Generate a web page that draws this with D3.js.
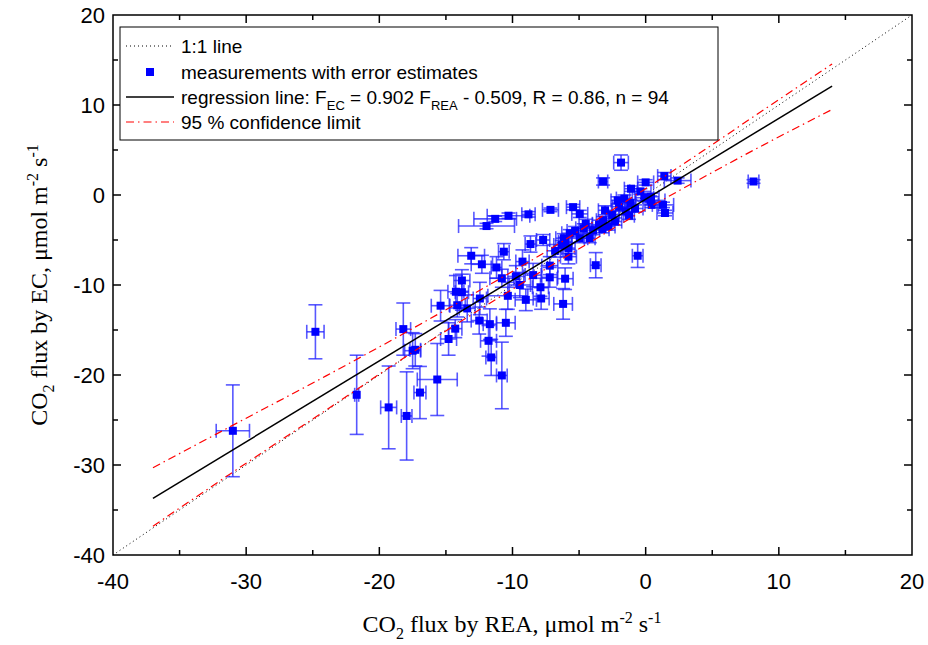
<!DOCTYPE html>
<html lang="en">
<head>
  <meta charset="UTF-8" />
  <title>CO2 flux EC vs REA</title>
  <script src="https://d3js.org/d3.v7.min.js"></script>
  <style>
    body { margin: 0; background: #fff; }
    svg { display: block; }
    .tick-label { font-family: Arial, "Liberation Sans", sans-serif; font-size: 22px; fill: #000; }
    .axis-title { font-family: "Times New Roman", "Liberation Serif", serif; font-size: 24px; fill: #000; }
    .legend-text { font-family: Arial, "Liberation Sans", sans-serif; font-size: 19px; fill: #000; }
  </style>
</head>
<body>
  <svg id="chart"></svg>
  <script>
    // measurements: REA flux (x), EC flux (y), and their error estimates
    const reaFlux = [-1.85, -3.2, 8.1, 0.0, 1.4, 2.4, -1.1, -0.4, -1.6, 0.4,
                     -1.15, 0.35, 0.45, 1.3, 1.45, -1.25, -3.05, -5.45, -4.95, -7.15,
                     -8.8, -10.3, -11.3, -11.95, -2.3, -2.8, -3.25, -3.95, -4.65, -5.7,
                     -6.15, -4.2, -7.7, -8.65, -6.3, -5.8, -10.65, -13.1, -12.3, -11.2,
                     -9.25, -7.2, -3.75, -0.6, -9.75, -8.45, -7.2, -6.05, -10.8, -13.8,
                     -9.45, -14.25, -13.8, -12.45, -10.35, -9.0, -7.85, -6.2, -15.4, -14.15,
                     -13.4, -18.2, -14.3, -12.5, -11.7, -10.5, -14.8, -11.8, -17.3, -17.5,
                     -21.7, -19.3, -17.95, -16.95, -15.65, -11.6, -10.8, -31.0, -24.8, -7.9,
                     -3.2, -4.95, -6.05, -5.8, -2.0, -0.8, -2.5, -1.5, -4.5, -3.5,
                     -5.3, -0.1, -2.1, -6.8];
    const ecFlux  = [3.6, 1.5, 1.5, 1.4, 2.1, 1.6, 0.7, 0.4, -0.4, -0.2,
                     -0.9, -0.6, -1.1, -1.1, -2.0, -2.3, -1.7, -1.35, -2.1, -1.65,
                     -2.15, -2.3, -2.65, -3.45, -2.95, -3.5, -3.8, -3.9, -3.7, -4.25,
                     -4.8, -4.8, -5.0, -5.45, -5.55, -6.85, -6.3, -6.75, -7.7, -8.05,
                     -7.4, -7.85, -7.8, -6.75, -9.05, -8.9, -9.15, -9.3, -9.25, -9.5,
                     -10.0, -10.75, -10.8, -11.5, -11.2, -11.65, -11.5, -12.1, -12.3, -12.25,
                     -12.6, -14.9, -14.85, -13.95, -14.35, -14.2, -16.0, -16.2, -17.2, -17.3,
                     -22.2, -23.6, -24.55, -21.95, -20.5, -18.05, -20.05, -26.2, -15.2, -10.25,
                     -2.8, -4.8, -5.2, -5.9, -1.3, -1.5, -2.2, -1.8, -3.2, -3.3,
                     -4.0, -0.3, -0.6, -6.2];
    const reaErr  = [0.55, 0.35, 0.4, 0.6, 0.5, 1.0, 0.5, 0.8, 0.6, 0.6,
                     0.4, 1.1, 0.5, 0.8, 0.6, 0.4, 0.5, 0.5, 0.6, 0.6,
                     0.5, 1.6, 1.6, 2.1, 0.5, 0.5, 0.5, 0.5, 0.6, 0.6,
                     0.6, 0.4, 0.5, 0.4, 0.6, 0.6, 0.4, 1.0, 0.8, 0.4,
                     0.5, 0.6, 0.4, 0.4, 0.6, 0.6, 0.6, 0.6, 0.9, 0.6,
                     0.8, 0.6, 0.5, 0.5, 1.5, 0.8, 0.6, 0.7, 0.7, 0.6,
                     0.6, 0.55, 0.5, 0.6, 0.5, 0.7, 0.6, 0.6, 0.4, 0.6,
                     0.15, 0.6, 0.4, 0.45, 1.5, 0.4, 0.4, 1.25, 0.65, 0.6,
                     0.5, 0.6, 0.5, 0.5, 0.5, 0.6, 0.5, 0.5, 0.5, 0.5,
                     0.6, 0.7, 0.5, 0.6];
    const ecErr   = [0.85, 0.4, 0.2, 0.3, 0.4, 0.3, 0.3, 0.3, 0.4, 0.4,
                     0.4, 0.5, 0.3, 0.3, 0.3, 0.4, 0.5, 0.3, 0.4, 0.2,
                     0.3, 0.3, 0.3, 0.3, 0.4, 0.4, 0.4, 0.5, 0.5, 0.4,
                     0.5, 0.5, 0.6, 0.9, 0.5, 0.8, 0.9, 0.9, 1.0, 1.2,
                     1.3, 1.0, 1.4, 1.3, 1.2, 1.3, 1.1, 1.2, 1.0, 1.2,
                     1.4, 1.8, 2.0, 1.8, 1.5, 1.2, 1.2, 1.7, 1.7, 1.3,
                     1.5, 2.9, 1.0, 1.5, 1.7, 1.5, 1.8, 1.7, 1.8, 2.0,
                     4.4, 4.6, 4.9, 2.9, 4.0, 2.0, 3.7, 5.1, 3.0, 1.0,
                     0.4, 0.5, 0.5, 0.6, 0.4, 0.4, 0.4, 0.4, 0.5, 0.5,
                     0.5, 0.4, 0.4, 0.7];

    // reference lines
    const oneToOneX = [-40, 20];
    const oneToOneY = [-40, 20];
    const regX = [-37, 14];
    const regY = [-33.7, 12.1];
    const ciX     = [-37, -30, -24, -18, -12, -8, -4, 0, 4, 8, 14];
    const ciUpper = [-30.3, -24.8, -20.1, -15.25, -10.2, -6.75, -3.05, 0.7, 4.6, 8.6, 14.55];
    const ciLower = [-36.8, -29.8, -23.9, -17.95, -12.3, -8.65, -5.1, -1.6, 1.7, 4.9, 9.5];

    const xMajor = [-40, -30, -20, -10, 0, 10, 20];
    const yMajor = [-40, -30, -20, -10, 0, 10, 20];
    const minorTicks = [-35, -25, -15, -5, 5, 15];

    const W = 928, H = 645;
    const margin = { top: 15, right: 16, bottom: 90, left: 113 };
    const width = W - margin.left - margin.right;
    const height = H - margin.top - margin.bottom;

    const svg = d3.select("#chart").attr("width", W).attr("height", H);
    const g = svg.append("g").attr("transform", `translate(${margin.left},${margin.top})`);

    const x = d3.scaleLinear().domain([-40, 20]).range([0, width]);
    const y = d3.scaleLinear().domain([-40, 20]).range([height, 0]);

    const data = reaFlux.map((v, i) => ({ x: v, y: ecFlux[i], ex: reaErr[i], ey: ecErr[i] }));

    // 1:1 line
    g.append("line")
      .attr("x1", x(oneToOneX[0])).attr("y1", y(oneToOneY[0]))
      .attr("x2", x(oneToOneX[1])).attr("y2", y(oneToOneY[1]))
      .attr("stroke", "#000").attr("stroke-width", 1)
      .attr("stroke-dasharray", "1,3");

    // error bars
    const cap = 7;
    const eb = g.append("g").attr("stroke", "#2020ff").attr("stroke-opacity", 0.75).attr("stroke-width", 1.6);
    data.forEach(d => {
      const cx = x(d.x), cy = y(d.y);
      const x0 = x(d.x - d.ex), x1 = x(d.x + d.ex);
      const y0 = y(d.y - d.ey), y1 = y(d.y + d.ey);
      eb.append("line").attr("x1", x0).attr("x2", x1).attr("y1", cy).attr("y2", cy);
      eb.append("line").attr("x1", x0).attr("x2", x0).attr("y1", cy - cap).attr("y2", cy + cap);
      eb.append("line").attr("x1", x1).attr("x2", x1).attr("y1", cy - cap).attr("y2", cy + cap);
      eb.append("line").attr("x1", cx).attr("x2", cx).attr("y1", y0).attr("y2", y1);
      eb.append("line").attr("x1", cx - cap).attr("x2", cx + cap).attr("y1", y0).attr("y2", y0);
      eb.append("line").attr("x1", cx - cap).attr("x2", cx + cap).attr("y1", y1).attr("y2", y1);
    });

    // markers
    g.selectAll(".pt").data(data).enter().append("rect")
      .attr("class", "pt")
      .attr("x", d => x(d.x) - 4).attr("y", d => y(d.y) - 4)
      .attr("width", 8).attr("height", 8)
      .attr("fill", "#0000ff");

    // confidence limits
    const ciLine = d3.line().x(d => x(d[0])).y(d => y(d[1])).curve(d3.curveMonotoneX);
    [ciUpper, ciLower].forEach(arr => {
      g.append("path")
        .attr("d", ciLine(ciX.map((v, i) => [v, arr[i]])))
        .attr("fill", "none").attr("stroke", "#ff0000").attr("stroke-width", 1.2)
        .attr("stroke-dasharray", "8,4,1.5,4");
    });

    // regression line
    g.append("line")
      .attr("x1", x(regX[0])).attr("y1", y(regY[0]))
      .attr("x2", x(regX[1])).attr("y2", y(regY[1]))
      .attr("stroke", "#000").attr("stroke-width", 1.5);

    // frame and inward ticks
    g.append("rect").attr("width", width).attr("height", height)
      .attr("fill", "none").attr("stroke", "#000").attr("stroke-width", 1.5);

    const ticks = g.append("g").attr("stroke", "#000").attr("stroke-width", 1.5);
    const addTicks = (vals, len) => {
      vals.forEach(v => {
        ticks.append("line").attr("x1", x(v)).attr("x2", x(v)).attr("y1", height).attr("y2", height - len);
        ticks.append("line").attr("x1", x(v)).attr("x2", x(v)).attr("y1", 0).attr("y2", len);
        ticks.append("line").attr("y1", y(v)).attr("y2", y(v)).attr("x1", 0).attr("x2", len);
        ticks.append("line").attr("y1", y(v)).attr("y2", y(v)).attr("x1", width).attr("x2", width - len);
      });
    };
    addTicks(xMajor.slice(1, -1), 8);
    addTicks(minorTicks, 5);

    g.selectAll(".xl").data(xMajor).enter().append("text")
      .attr("class", "tick-label")
      .attr("x", d => x(d)).attr("y", height + 34)
      .attr("text-anchor", "middle").text(d => d);

    g.selectAll(".yl").data(yMajor).enter().append("text")
      .attr("class", "tick-label")
      .attr("x", -8).attr("y", d => y(d) + 8)
      .attr("text-anchor", "end").text(d => d);

    // axis titles
    const xt = svg.append("text").attr("class", "axis-title")
      .attr("x", 512).attr("y", 632).attr("text-anchor", "middle");
    xt.append("tspan").text("CO");
    xt.append("tspan").attr("dy", 7).attr("font-size", 16).text("2");
    xt.append("tspan").attr("dy", -7).text(" flux by REA, \u03bcmol m");
    xt.append("tspan").attr("dy", -9).attr("font-size", 16).text("-2");
    xt.append("tspan").attr("dy", 9).text(" s");
    xt.append("tspan").attr("dy", -9).attr("font-size", 16).text("-1");

    const yt = svg.append("text").attr("class", "axis-title")
      .attr("transform", "translate(47,285) rotate(-90)").attr("text-anchor", "middle");
    yt.append("tspan").text("CO");
    yt.append("tspan").attr("dy", 7).attr("font-size", 16).text("2");
    yt.append("tspan").attr("dy", -7).text(" flux by EC, \u03bcmol m");
    yt.append("tspan").attr("dy", -9).attr("font-size", 16).text("-2");
    yt.append("tspan").attr("dy", 9).text(" s");
    yt.append("tspan").attr("dy", -9).attr("font-size", 16).text("-1");

    // legend
    const lg = svg.append("g");
    lg.append("rect").attr("x", 120).attr("y", 27).attr("width", 598).attr("height", 113)
      .attr("fill", "#fff").attr("stroke", "#000").attr("stroke-width", 1);
    const rowY = [46, 72, 97, 122];
    lg.append("line").attr("x1", 126).attr("x2", 174).attr("y1", rowY[0]).attr("y2", rowY[0])
      .attr("stroke", "#000").attr("stroke-dasharray", "1,3");
    lg.append("rect").attr("x", 146).attr("y", rowY[1] - 4).attr("width", 8).attr("height", 8).attr("fill", "#0000ff");
    lg.append("line").attr("x1", 126).attr("x2", 174).attr("y1", rowY[2]).attr("y2", rowY[2])
      .attr("stroke", "#000").attr("stroke-width", 1.5);
    lg.append("line").attr("x1", 126).attr("x2", 174).attr("y1", rowY[3]).attr("y2", rowY[3])
      .attr("stroke", "#ff0000").attr("stroke-width", 1.2).attr("stroke-dasharray", "8,4,1.5,4");

    const tx = 181;
    lg.append("text").attr("class", "legend-text").attr("x", tx).attr("y", rowY[0] + 7).text("1:1 line");
    lg.append("text").attr("class", "legend-text").attr("x", tx).attr("y", rowY[1] + 7).text("measurements with error estimates");
    const rt = lg.append("text").attr("class", "legend-text").attr("x", tx).attr("y", rowY[2] + 7);
    rt.append("tspan").text("regression line: F");
    rt.append("tspan").attr("dy", 6).attr("font-size", 13).text("EC");
    rt.append("tspan").attr("dy", -6).text(" = 0.902 F");
    rt.append("tspan").attr("dy", 6).attr("font-size", 13).text("REA");
    rt.append("tspan").attr("dy", -6).text(" - 0.509, R = 0.86, n = 94");
    lg.append("text").attr("class", "legend-text").attr("x", tx).attr("y", rowY[3] + 7).text("95 % confidence limit");
  </script>
</body>
</html>
